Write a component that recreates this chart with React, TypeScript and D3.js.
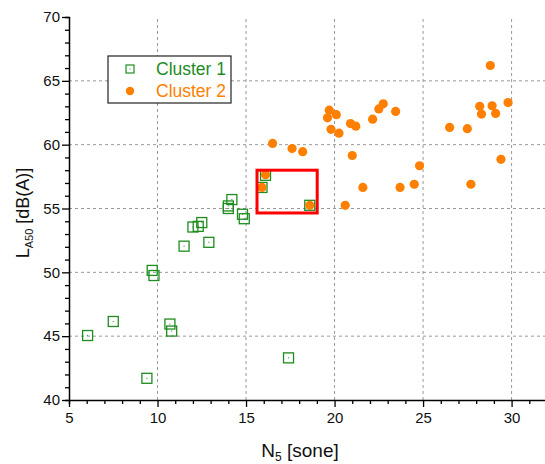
import React, { useRef, useEffect } from "react";
import * as d3 from "d3";

// cluster 1: [N5, LA50]
const cluster1X = [14.2, 14.0, 14.0, 14.8, 14.9, 12.5, 12.3, 12.0, 12.9, 11.5, 9.7, 9.8, 7.5, 6.05, 10.7, 10.8, 9.4, 17.4, 16.1, 15.9, 18.6];
const cluster1Y = [55.7, 55.2, 55.0, 54.55, 54.2, 53.9, 53.6, 53.55, 52.35, 52.05, 50.15, 49.75, 46.15, 45.05, 45.95, 45.4, 41.7, 43.3, 57.6, 56.65, 55.25];

const cluster2X = [16.5, 17.6, 18.2, 16.1, 15.9, 18.6, 28.8, 28.2, 28.9, 28.3, 29.1, 29.8, 26.5, 27.5, 29.4, 27.7, 19.7, 19.6, 20.1, 19.8, 20.25, 20.9, 21.2, 22.15, 22.5, 22.75, 23.45, 21.0, 24.8, 21.6, 23.7, 24.5, 20.6];
const cluster2Y = [60.1, 59.7, 59.45, 57.65, 56.65, 55.25, 66.2, 63.0, 63.05, 62.4, 62.45, 63.3, 61.35, 61.25, 58.85, 56.9, 62.7, 62.1, 62.35, 61.2, 60.9, 61.65, 61.45, 62.0, 62.8, 63.2, 62.6, 59.15, 58.35, 56.65, 56.65, 56.9, 55.25];

const xTicks = [5, 10, 15, 20, 25, 30];
const yTicks = [40, 45, 50, 55, 60, 65, 70];
const highlight = { x0: 15.62, x1: 19.02, y0: 54.65, y1: 58.0 };

const GREEN = "#1f8c1f";
const ORANGE = "#ff8000";

export default function App() {
  const ref = useRef<SVGSVGElement>(null);

  useEffect(() => {
    const width = 545;
    const height = 464;
    const svg = d3.select(ref.current);
    svg.selectAll("*").remove();
    svg.attr("width", width).attr("height", height);

    const x = d3.scaleLinear().domain([5, 32]).range([69, 547]);
    const y = d3.scaleLinear().domain([40, 70]).range([400, 17]);
    const font = "'Liberation Sans', Arial, sans-serif";

    // grid
    const grid = svg.append("g").attr("stroke", "#999").attr("stroke-dasharray", "3,3").attr("stroke-width", 1);
    xTicks.filter(t => t > 5).forEach(t => {
      grid.append("line").attr("x1", x(t)).attr("x2", x(t)).attr("y1", y(40)).attr("y2", y(70));
    });
    yTicks.filter(t => t > 40 && t < 70).forEach(t => {
      grid.append("line").attr("x1", x(5)).attr("x2", width).attr("y1", y(t)).attr("y2", y(t));
    });

    // axes
    const xAxis = svg.append("g").attr("transform", `translate(0,${y(40)})`);
    xAxis.call(d3.axisBottom(x).tickValues(d3.range(5, 33, 1)).tickSize(4).tickFormat(() => ""));
    xAxis.call(g => g.selectAll(".tick").filter((d: any) => d % 5 === 0).select("line").attr("y2", 7));
    xAxis.selectAll(".tick").filter((d: any) => d % 5 === 0).select("text")
      .text((d: any) => d).attr("y", 12).attr("font-size", 15).attr("font-family", font).attr("fill", "#111");
    xAxis.select(".domain").attr("stroke-width", 1.5);
    xAxis.selectAll("line").attr("stroke-width", 1.3);

    const yAxis = svg.append("g").attr("transform", `translate(${x(5)},0)`);
    yAxis.call(d3.axisLeft(y).tickValues(d3.range(40, 71, 1)).tickSize(4).tickFormat(() => ""));
    yAxis.call(g => g.selectAll(".tick").filter((d: any) => d % 5 === 0).select("line").attr("x2", -7));
    yAxis.selectAll(".tick").filter((d: any) => d % 5 === 0).select("text")
      .text((d: any) => d).attr("x", -9).attr("font-size", 15).attr("font-family", font).attr("fill", "#111");
    yAxis.select(".domain").attr("stroke-width", 1.5);
    yAxis.selectAll("line").attr("stroke-width", 1.3);

    // axis titles
    const xt = svg.append("text").attr("x", 300).attr("y", 457).attr("text-anchor", "middle")
      .attr("font-family", font).attr("font-size", 19).attr("fill", "#111");
    xt.append("tspan").text("N");
    xt.append("tspan").text("5").attr("font-size", 12).attr("dy", 4);
    xt.append("tspan").text(" [sone]").attr("dy", -4);

    const yt = svg.append("text").attr("transform", `translate(29,${213}) rotate(-90)`).attr("text-anchor", "middle")
      .attr("font-family", font).attr("font-size", 18).attr("fill", "#111");
    yt.append("tspan").text("L");
    yt.append("tspan").text("A50").attr("font-size", 11).attr("dy", 4);
    yt.append("tspan").text(" [dB(A)]").attr("dy", -4);

    // cluster 1 squares
    const s = 10;
    const c1 = svg.append("g");
    cluster1X.forEach((v, i) => {
      c1.append("rect").attr("x", x(v) - s / 2).attr("y", y(cluster1Y[i]) - s / 2).attr("width", s).attr("height", s)
        .attr("fill", "none").attr("stroke", GREEN).attr("stroke-width", 1.3);
      c1.append("rect").attr("x", x(v) - 0.5).attr("y", y(cluster1Y[i]) - 0.5).attr("width", 1).attr("height", 1).attr("fill", GREEN);
    });

    // cluster 2 circles
    svg.append("g").selectAll("circle").data(cluster2X).enter().append("circle")
      .attr("cx", d => x(d)).attr("cy", (d, i) => y(cluster2Y[i])).attr("r", 4.6).attr("fill", ORANGE);

    // highlight box
    svg.append("rect").attr("x", x(highlight.x0)).attr("y", y(highlight.y1))
      .attr("width", x(highlight.x1) - x(highlight.x0)).attr("height", y(highlight.y0) - y(highlight.y1))
      .attr("fill", "none").attr("stroke", "#ff0000").attr("stroke-width", 3);

    // legend
    const lg = svg.append("g");
    lg.append("rect").attr("x", 108).attr("y", 56).attr("width", 123).attr("height", 47)
      .attr("fill", "white").attr("stroke", "#222").attr("stroke-width", 1.2);
    lg.append("rect").attr("x", 126).attr("y", 65).attr("width", 8).attr("height", 8)
      .attr("fill", "none").attr("stroke", GREEN).attr("stroke-width", 1.2);
    lg.append("rect").attr("x", 129.5).attr("y", 68.5).attr("width", 1).attr("height", 1).attr("fill", GREEN);
    lg.append("circle").attr("cx", 130).attr("cy", 91).attr("r", 4.2).attr("fill", ORANGE);
    lg.append("text").attr("x", 156).attr("y", 75).text("Cluster 1").attr("fill", GREEN)
      .attr("font-family", font).attr("font-size", 17.5);
    lg.append("text").attr("x", 156).attr("y", 97).text("Cluster 2").attr("fill", ORANGE)
      .attr("font-family", font).attr("font-size", 17.5);
  }, []);

  return <svg ref={ref} style={{ position: "absolute", left: 0, top: 0, background: "white" }}></svg>;
}
